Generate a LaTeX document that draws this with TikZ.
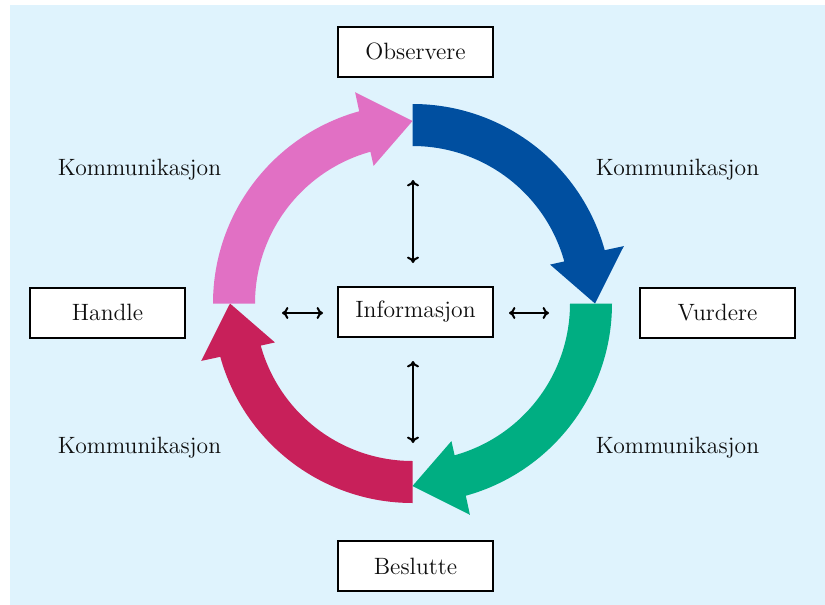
\documentclass[tikz,border=0pt]{standalone}
\usetikzlibrary{arrows.meta}
\definecolor{bgblue}{RGB}{223,243,253}
\definecolor{arrblue}{RGB}{0,79,160}
\definecolor{arrgreen}{RGB}{0,174,130}
\definecolor{arrcrimson}{RGB}{200,32,90}
\definecolor{arrpink}{RGB}{225,112,196}
\definecolor{txt}{RGB}{15,15,15}
\begin{document}
\begin{tikzpicture}[x=0.5pt,y=0.5pt,
  font=\fontsize{11.8}{14}\selectfont,
  box/.style={draw=black, line width=1pt, fill=white, text=txt,
    minimum width=77.5pt, minimum height=25pt, inner sep=0pt},
  lbl/.style={inner sep=0pt, text=txt},
  dbl/.style={{To[length=3.2pt,width=6pt]}-{To[length=3.2pt,width=6pt]}, line width=1pt, draw=black}]
\useasboundingbox (0,0) rectangle (825,-605);
\fill[bgblue] (10,-5) rectangle (825,-605);

% ring arrows
\begin{scope}[shift={(412.5,-303.5)}]
  \def\Ro{199.5}\def\Ri{157.5}\def\Wo{219}\def\Wi{143}\def\Tp{182.5}
  % blue: 90 -> 0
  \fill[arrblue] (90:\Ro) arc[start angle=90,end angle=15.5,radius=\Ro]
    -- (15.2:\Wo) -- (0:\Tp) -- (15.8:\Wi) -- (15.5:\Ri)
    arc[start angle=15.5,end angle=90,radius=\Ri] -- cycle;
  % green: 0 -> -90
  \fill[arrgreen] (0:\Ro) arc[start angle=0,end angle=-74.5,radius=\Ro]
    -- (-74.8:\Wo) -- (-90:\Tp) -- (-74.2:\Wi) -- (-74.5:\Ri)
    arc[start angle=-74.5,end angle=0,radius=\Ri] -- cycle;
  % crimson: -90 -> -180
  \fill[arrcrimson] (-90:\Ro) arc[start angle=-90,end angle=-164.5,radius=\Ro]
    -- (-164.8:\Wo) -- (-180:\Tp) -- (-164.2:\Wi) -- (-164.5:\Ri)
    arc[start angle=-164.5,end angle=-90,radius=\Ri] -- cycle;
  % pink: 180 -> 90
  \fill[arrpink] (180:\Ro) arc[start angle=180,end angle=105.5,radius=\Ro]
    -- (105.2:\Wo) -- (90:\Tp) -- (105.8:\Wi) -- (105.5:\Ri)
    arc[start angle=105.5,end angle=180,radius=\Ri] -- cycle;
\end{scope}

% boxes
\node[box] (obs) at (415.5,-51.5) {Observere};
\node[box] (inf) at (415.5,-311.5) {Informasjon};
\node[box] (han) at (107.5,-312.5) {Handle};
\node[box] (vur) at (717.5,-312.5) {Vurdere};
\node[box] (bes) at (415.5,-566) {Beslutte};

% labels
\node[lbl] (k1) at (139.5,-170) {Kommunikasjon};
\node[lbl] (k2) at (677.5,-170) {Kommunikasjon};
\node[lbl] (k3) at (139.5,-448) {Kommunikasjon};
\node[lbl] (k4) at (677.5,-448) {Kommunikasjon};

% double arrows
\coordinate (ta) at (413,-180);
\coordinate (tb) at (413,-263);
\coordinate (ba) at (413,-361);
\coordinate (bb) at (413,-443);
\coordinate (la) at (282,-313);
\coordinate (lb) at (323,-313);
\coordinate (ra) at (509,-313);
\coordinate (rb) at (549,-313);
\draw[dbl] (ta) -- (tb);
\draw[dbl] (ba) -- (bb);
\draw[dbl] (la) -- (lb);
\draw[dbl] (ra) -- (rb);
\end{tikzpicture}
\end{document}
